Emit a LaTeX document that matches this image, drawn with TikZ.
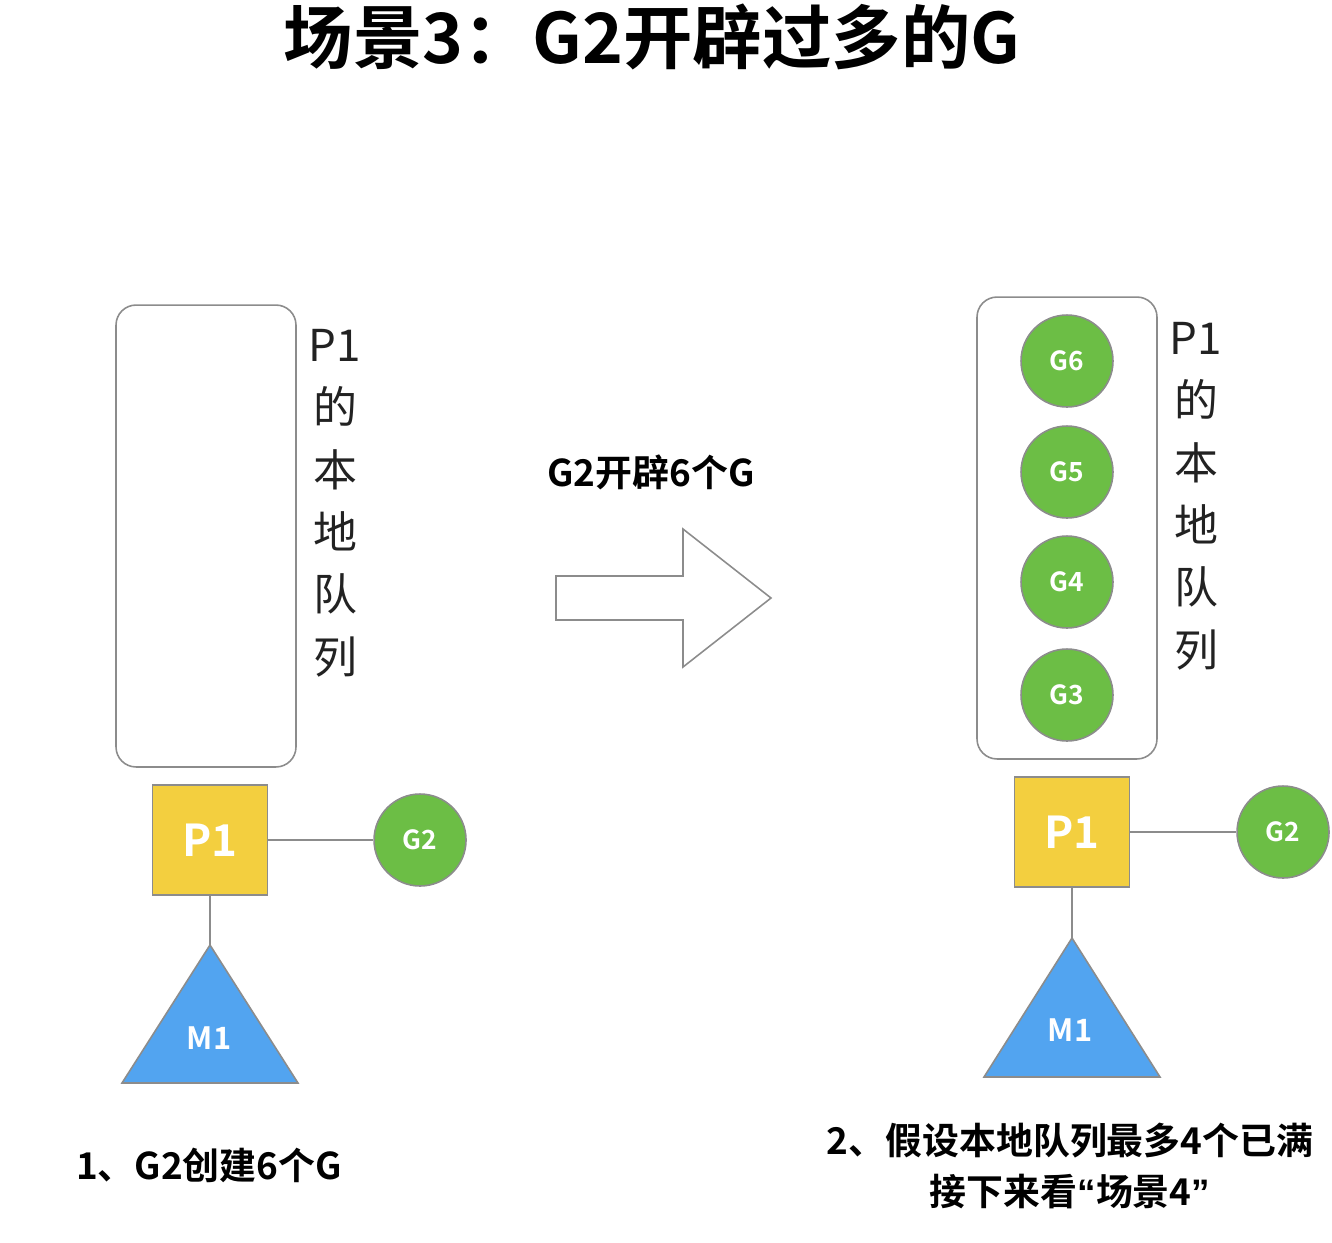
\documentclass[tikz,border=0pt]{standalone}
\usepackage{fontspec}
\setmainfont{Noto Sans CJK SC}[BoldFont={Noto Sans CJK SC Bold}]
\newfontfamily\quotefont{Liberation Sans}
\usetikzlibrary{positioning}

\definecolor{pyellow}{HTML}{F3CF3F}
\definecolor{ggreen}{HTML}{6CBE45}
\definecolor{mblue}{HTML}{52A4F0}
\definecolor{edgegray}{HTML}{8C8C8C}
\definecolor{labelgray}{HTML}{222222}

\begin{document}
\begin{tikzpicture}[x=0.02cm,y=-0.02cm,
    queue/.style={draw=edgegray,line width=0.9pt,rounded corners=0.4cm,
                  minimum width=3.6cm,minimum height=9.24cm},
    proc/.style={draw=edgegray,line width=0.9pt,fill=pyellow,
                 minimum width=2.3cm,minimum height=2.2cm,text=white,
                 font=\bfseries\fontsize{25}{25}\selectfont},
    gor/.style={circle,draw=edgegray,line width=0.9pt,fill=ggreen,
                minimum size=1.84cm,inner sep=0pt,text=white,
                font=\bfseries\fontsize{15}{15}\selectfont},
    mach/.style={draw=edgegray,line width=0.9pt,fill=mblue},
    mtext/.style={text=white,font=\bfseries\fontsize{17.5}{17.5}\selectfont},
    qlabel/.style={align=center,text=labelgray,font=\fontsize{25}{35.5}\selectfont},
    caption/.style={align=center,font=\bfseries\fontsize{21}{29.5}\selectfont},
    link/.style={draw=edgegray,line width=0.9pt}]

\useasboundingbox (0,0) rectangle (1332,1242);

\node[font=\bfseries\fontsize{39.5}{39.5}\selectfont] (title) at (652,37) {场景3：G2开辟过多的G};

% left: before
\node[queue] (qL) at (206,536) {};
\node[qlabel] (qlabL) at (335,503) {P1\\的\\本\\地\\队\\列};
\node[proc] (p1L) at (210,840) {P1};
\node[gor,right=2.1cm of p1L] (g2L) {G2} edge[link] (p1L);
\coordinate (m1Ltop) at (210,945);
\path[mach] (m1Ltop) -- (298,1083) -- (122,1083) -- cycle;
\node[mtext] (m1L) at (209,1038) {M1};
\draw[link] (p1L) -- (m1Ltop);
\node[caption] (capL) at (209,1165) {1、G2创建6个G};

% middle
\node[caption] (step) at (651,472) {G2开辟6个G};
\draw[link] (556,576) -- (683,576) -- (683,529) -- (771,598)
            -- (683,667) -- (683,620) -- (556,620) -- cycle;

% right: after
\node[queue] (qR) at (1067,528) {};
\foreach \i/\y in {6/361,5/472,4/582,3/695}
  \node[gor] (g\i) at (1067,\y) {G\i};
\node[qlabel] (qlabR) at (1196,496) {P1\\的\\本\\地\\队\\列};
\node[proc] (p1R) at (1072,832) {P1};
\node[gor,right=2.12cm of p1R] (g2R) {G2} edge[link] (p1R);
\coordinate (m1Rtop) at (1072,938);
\path[mach] (m1Rtop) -- (1160,1077) -- (984,1077) -- cycle;
\node[mtext] (m1R) at (1070,1030) {M1};
\draw[link] (p1R) -- (m1Rtop);
\node[caption] (capR) at (1070,1166)
  {2、假设本地队列最多4个已满\\接下来看{\quotefont “}场景4{\quotefont ”}};

\end{tikzpicture}
\end{document}
